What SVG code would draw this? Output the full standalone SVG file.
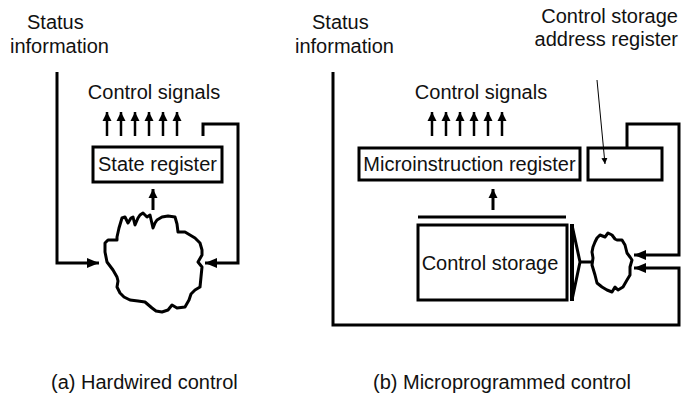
<svg xmlns="http://www.w3.org/2000/svg" width="683" height="396" viewBox="0 0 683 396">
  <style>
    .lbl { font-family: "Liberation Sans", Arial, sans-serif; font-size: 20px; fill: #111; }
    .box { fill: #fff; stroke: #000; stroke-width: 3; }
    .wire { fill: none; stroke: #000; stroke-width: 3; stroke-linejoin: miter; }
    .sig { fill: none; stroke: #000; stroke-width: 2.5; }
    .cloud { fill: #fff; stroke: #000; stroke-width: 3; stroke-linejoin: round; }
    .thin { fill: none; stroke: #000; stroke-width: 1; }
  </style>
  <defs>
    <marker id="ah" markerUnits="userSpaceOnUse" markerWidth="14" markerHeight="12" refX="12" refY="6" orient="auto">
      <path d="M0,1 L12,6 L0,11 Z" fill="#000"/>
    </marker>
    <marker id="ahs" markerUnits="userSpaceOnUse" markerWidth="10" markerHeight="10" refX="9" refY="5" orient="auto">
      <path d="M0,0.5 L9,5 L0,9.5 Z" fill="#000"/>
    </marker>
    <marker id="ahp" markerUnits="userSpaceOnUse" markerWidth="8" markerHeight="8" refX="6" refY="4" orient="auto">
      <path d="M0,1 L6,4 L0,7 Z" fill="#000"/>
    </marker>
    <!-- bundle of six control-signal outputs -->
    <g id="sigs">
      <line x1="0" y1="136" x2="0" y2="112" class="sig" marker-end="url(#ahs)"/>
      <line x1="14" y1="136" x2="14" y2="112" class="sig" marker-end="url(#ahs)"/>
      <line x1="28" y1="136" x2="28" y2="112" class="sig" marker-end="url(#ahs)"/>
      <line x1="42" y1="136" x2="42" y2="112" class="sig" marker-end="url(#ahs)"/>
      <line x1="56" y1="136" x2="56" y2="112" class="sig" marker-end="url(#ahs)"/>
      <line x1="70" y1="136" x2="70" y2="112" class="sig" marker-end="url(#ahs)"/>
    </g>
  </defs>

  <!-- (a) Hardwired control -->
  <g id="a-status">
    <text class="lbl" x="27" y="29">Status</text>
    <text class="lbl" x="10" y="53">information</text>
  </g>
  <g id="a-signals">
    <text class="lbl" x="154" y="99" text-anchor="middle">Control signals</text>
    <use href="#sigs" x="107"/>
  </g>
  <g id="a-state-register">
    <rect class="box" x="93" y="147" width="129" height="35"/>
    <text class="lbl" x="157.5" y="171" text-anchor="middle">State register</text>
  </g>
  <g id="a-logic">
    <path class="cloud" d="M117,237 L119,228 L122,218 L125,217 L128,223 L131,218 L133,217 L135,225 L138,218 L140,215 L143,213 L147,217 L150,215 L153,228 L155,223 L157,220 L162,217 L168,216 L175,217 L177,224 L178,232 L185,232 L190,235 L195,238 L200,243 L202,250 L202,255 L198,262 L202,267 L201,277 L200,287 L195,290 L191,294 L189,300 L185,307 L177,308 L172,305 L168,310 L162,312 L156,311 L152,308 L145,302 L138,301 L130,300 L124,297 L120,293 L117,287 L118,281 L117,277 L113,270 L107,262 L105,252 L105,243 L108,240 L117,240 Z"/>
  </g>

  <!-- (b) Microprogrammed control -->
  <g id="b-status">
    <text class="lbl" x="312" y="29">Status</text>
    <text class="lbl" x="295" y="53">information</text>
  </g>
  <g id="b-csar-label">
    <text class="lbl" x="678" y="23" text-anchor="end">Control storage</text>
    <text class="lbl" x="678" y="46" text-anchor="end">address register</text>
  </g>
  <g id="b-signals">
    <text class="lbl" x="481" y="99" text-anchor="middle">Control signals</text>
    <use href="#sigs" x="432"/>
  </g>
  <g id="b-microinstruction-register">
    <rect class="box" x="359" y="148" width="221" height="32"/>
    <text class="lbl" x="469.5" y="171" text-anchor="middle">Microinstruction register</text>
  </g>
  <g id="b-csar">
    <rect class="box" x="588" y="148" width="74" height="32"/>
  </g>
  <g id="b-control-storage">
    <line class="wire" x1="418" y1="217" x2="566" y2="217"/>
    <rect class="box" x="418" y="225" width="149" height="75"/>
    <text class="lbl" x="490" y="270" text-anchor="middle">Control storage</text>
  </g>
  <g id="b-decoder">
    <line x1="572" y1="224" x2="572" y2="301" stroke="#000" stroke-width="4"/>
    <polyline class="wire" points="572,225 580,262 572,300"/>
    <line class="wire" x1="580" y1="262" x2="592" y2="262"/>
  </g>
  <g id="b-sequencer">
    <path class="cloud" d="M593,247 L595,242 L597,238 L600,235 L605,237 L608,233 L612,235 L615,239 L617,240 L622,240 L625,245 L627,253 L630,257 L632,260 L630,267 L630,275 L627,280 L623,287 L618,290 L615,287 L612,292 L607,290 L602,287 L597,283 L595,275 L592,265 L593,258 L592,252 Z"/>
  </g>

  <!-- connectors -->
  <g id="connectors">
    <polyline class="wire" points="57,72 57,263 99,263" marker-end="url(#ah)"/>
    <polyline class="wire" points="203,136 203,124 238,124 238,263 205,263" marker-end="url(#ah)"/>
    <line class="wire" x1="153" y1="210" x2="153" y2="189" marker-end="url(#ahs)"/>

    <polyline class="wire" points="333,72 333,325 679,325 679,268 634,268" marker-end="url(#ah)"/>
    <polyline class="wire" points="627,148 627,124 679,124 679,255 634,255" marker-end="url(#ah)"/>
    <line class="wire" x1="493" y1="210" x2="493" y2="189" marker-end="url(#ahs)"/>
    <line class="thin" x1="597" y1="80" x2="605" y2="164" marker-end="url(#ahp)"/>
  </g>

  <g id="captions">
    <text class="lbl" x="51" y="389">(a) Hardwired control</text>
    <text class="lbl" x="373" y="389">(b) Microprogrammed control</text>
  </g>
</svg>
